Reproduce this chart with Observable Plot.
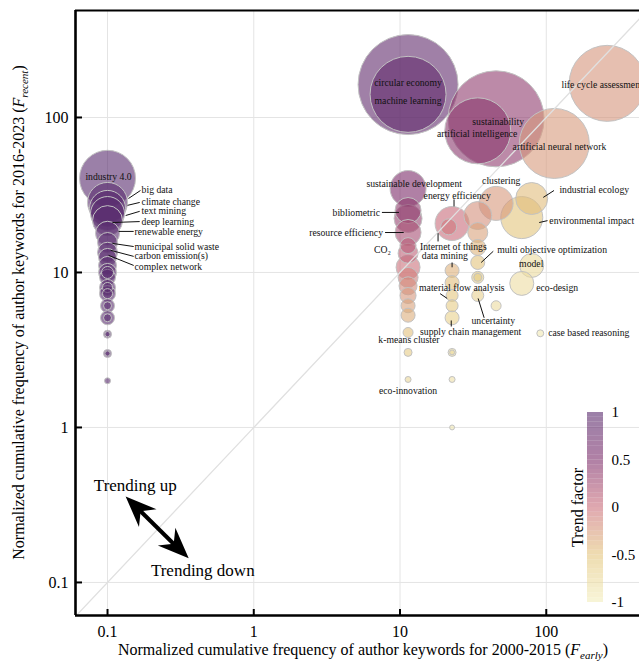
<!DOCTYPE html>
<html>
<head>
<meta charset="utf-8">
<script src="https://cdn.jsdelivr.net/npm/d3@7"></script>
<script src="https://cdn.jsdelivr.net/npm/@observablehq/plot@0.6"></script>
<style>
  html, body { margin: 0; padding: 0; overflow: hidden; background: white; }
  #wrap { position: relative; width: 639px; height: 663px; }
  #legend { position: absolute; left: 560px; top: 400px; }
</style>
</head>
<body>
<div id="wrap"><div id="chart"></div><div id="legend"></div></div>
<script>
// ---- Data ----
const keywords = [
  "industry 4.0","big data","climate change","text mining","deep learning","renewable energy",
  "municipal solid waste","carbon emission(s)","complex network","","","","","","","","","","",
  "","","","","","","",
  "circular economy","machine learning","sustainable development","bibliometric","","resource efficiency",
  "CO2","","","","","","","","k-means cluster","","eco-innovation",
  "energy efficiency","Internet of things","data mining","","material flow analysis","",
  "supply chain management","","","","",
  "artificial intelligence","","","","multi objective optimization","","","uncertainty",
  "sustainability","clustering","",
  "industrial ecology","environmental impact","model","eco-design","case based reasoning",
  "artificial neural network","life cycle assessment"
];
const fEarly = [
  0.1,0.1,0.1,0.1,0.1,0.1,0.1,0.1,0.1,0.1,0.1,0.1,0.1,0.1,0.1,0.1,0.1,0.1,0.1,
  0.1,0.1,0.1,0.1,0.1,0.1,0.1,
  11.35,11.35,11.35,11.35,11.35,11.35,11.35,11.35,11.35,11.35,11.35,11.35,11.35,11.35,11.35,11.35,11.35,
  22.7,21.5,22.7,22.7,22.7,22.7,22.7,22.7,22.7,22.7,22.7,
  34,34,34,34,34,34,34,34,
  45.4,45.4,45.4,
  79.5,68,79.5,68,91,
  113.5,261
];
const fRecent = [
  40.5,28.3,25.9,24,21.6,17.9,15.6,13.5,12.5,11.1,10,9.3,8,7.3,6.1,5.1,4,3,2,
  8,7.3,6.1,5.1,4,3,10,
  163,141,34.8,25.1,22.3,18.1,14.9,13.3,10.8,9.3,8.2,7.1,6.1,5.3,4.1,3.05,2.04,
  20.7,19.7,10.3,8.6,7.1,6.1,5.1,3.05,3.05,2.04,1,
  82,23.3,18.1,14.5,11.6,9.3,9.3,7.1,
  98,27.9,6.1,
  30,22.6,11.1,8.5,4.05,
  68,166
];
const weight = [
  784,400,324,289,225,144,100,100,81,81,81,64,64,64,49,49,16,16,9,
  25,25,16,16,7,7,36,
  2500,1444,324,169,196,169,64,100,144,100,81,64,49,49,25,16,9,
  289,64,49,49,36,36,49,16,6,9,6,
  1089,196,100,64,49,36,16,36,
  2304,289,25,
  256,441,144,144,12,
  1225,1444
];
const trend = [
  1,1,1,1,1,1,1,1,1,1,1,1,1,1,1,1,1,1,1,
  1,1,1,1,1,1,1,
  0.87,0.85,0.5,0.38,0.33,0.23,0.14,0.08,-0.02,-0.1,-0.16,-0.23,-0.3,-0.36,-0.47,-0.58,-0.7,
  0.02,-0.05,-0.38,-0.45,-0.52,-0.58,-0.63,-0.76,-0.76,-0.83,-0.92,
  0.41,-0.19,-0.3,-0.4,-0.49,-0.57,-0.57,-0.65,
  0.37,-0.24,-0.76,
  -0.45,-0.5,-0.75,-0.78,-0.92,
  -0.25,-0.22
];

const axisTicks = [0.1, 1, 10, 100];
const legendTicks = [-1, -0.5, 0, 0.5, 1];

// label anchor positions (data units)
const labelsStart = [
  {t:"big data", x:0.171, y:34.3}, {t:"climate change", x:0.171, y:28.7},
  {t:"text mining", x:0.171, y:24.8}, {t:"deep learning", x:0.171, y:21.3},
  {t:"renewable energy", x:0.153, y:18.4}, {t:"municipal solid waste", x:0.153, y:14.7},
  {t:"carbon emission(s)", x:0.153, y:12.7}, {t:"complex network", x:0.153, y:10.9},
  {t:"Internet of things", x:13.7, y:14.7}, {t:"data mining", x:14.1, y:12.7},
  {t:"multi objective optimization", x:46.2, y:13.9}, {t:"eco-design", x:85.4, y:8.0},
  {t:"material flow analysis", x:13.5, y:8.0}, {t:"supply chain management", x:13.7, y:4.16},
  {t:"case based reasoning", x:103, y:4.1}, {t:"industrial ecology", x:123, y:34.3},
  {t:"environmental impact", x:105, y:21.6}, {t:"life cycle assessment", x:127, y:163}
];
const labelsMiddle = [
  {t:"industry 4.0", x:0.1016, y:41.6}, {t:"sustainable development", x:12.5, y:37.5},
  {t:"energy efficiency", x:24.6, y:31.4}, {t:"model", x:78.9, y:11.3},
  {t:"uncertainty", x:43.4, y:4.9}, {t:"k-means cluster", x:11.5, y:3.7},
  {t:"eco-innovation", x:11.35, y:1.71}, {t:"clustering", x:49.2, y:39.2},
  {t:"circular economy", x:11.35, y:168}, {t:"machine learning", x:11.35, y:127},
  {t:"sustainability", x:46.9, y:94.2}, {t:"artificial intelligence", x:33.7, y:78.8},
  {t:"artificial neural network", x:123, y:65.0}
];
const labelsEnd = [
  {t:"bibliometric", x:7.29, y:24.4}, {t:"resource efficiency", x:7.65, y:18.1},
  {t:"CO₂", x:8.67, y:13.9}
];
const leaders = [
  [0.168,33.8,0.139,30.0],[0.166,28.3,0.137,27.1],[0.166,24.8,0.133,23.3],
  [0.166,21.3,0.108,21.0],[0.151,18.4,0.119,18.4],[0.151,14.7,0.108,15.4],
  [0.151,12.7,0.105,13.9],[0.151,11.1,0.1016,12.9],
  [23.4,29.6,23.4,26.7],[7.52,24.4,9.84,24.4],[7.9,18.1,10.6,18.1],
  [18.2,15.85,18.2,17.9],[22.7,11.6,22.7,10.8],[43.4,13.7,35.9,11.6],
  [18.8,7.3,21.0,6.8],[37.6,5.1,34.2,6.8],[22.4,4.48,22.4,4.9],
  [113,33.8,95.4,30.5],[102,21.6,89.5,21.0]
];
const trendNotes = [
  {t:"Trending up", x:0.155, y:0.42},
  {t:"Trending down", x:0.448, y:0.119}
];
// double arrow: shaft between the two notches, heads at the two tips
const trendShaft = [[0.1664, 0.2914, 0.2862, 0.1758]];
const headUp = [[0.133, 0.359]];
const headDown = [[0.359, 0.143]];
const diagonal = [[0.05,0.05],[600,600]];

// ---- Build ----
const data = keywords.map((k, i) => ({name:k, x:fEarly[i], y:fRecent[i], w:weight[i], t:trend[i]}));
const xDomain = [0.0604, 434];
const yDomain = [0.0612, 490];
const colorScale = {type:"linear", domain:[-1,-0.5,0,0.5,1],
  range:["#f3eebe","#e3c57b","#cb6e7b","#7b2b69","#582b6e"]};
const font = "Liberation Serif, Times New Roman, serif";
const W = 639, H = 663, mL = 75, mR = 0, mT = 10, mB = 48;

// barbed arrowhead symbol with its tip at the origin, pointing along angle (degrees, screen coords)
function arrowHead(angleDeg) {
  const a = angleDeg * Math.PI / 180, c = Math.cos(a), s = Math.sin(a);
  const pts = [[0,0],[-31,-12.5],[-21,0],[-31,12.5]];
  return {draw(ctx) {
    pts.forEach(([px, py], i) => {
      const X = px * c - py * s, Y = px * s + py * c;
      i ? ctx.lineTo(X, Y) : ctx.moveTo(X, Y);
    });
    ctx.closePath();
  }};
}

const chart = Plot.plot({
  width: W, height: H, marginLeft: mL, marginRight: mR, marginTop: mT, marginBottom: mB,
  x: {type:"log", domain: xDomain},
  y: {type:"log", domain: yDomain},
  r: {type:"sqrt", domain:[0,2500], range:[0,50]},
  color: colorScale,
  style: {fontFamily: font, background: "white", color: "black"},
  marks: [
    Plot.gridX(axisTicks, {stroke:"#e4e4e4", strokeOpacity:1, strokeWidth:1}),
    Plot.gridY(axisTicks, {stroke:"#e4e4e4", strokeOpacity:1, strokeWidth:1}),
    Plot.dot(data, {x:"x", y:"y", r:"w", fill:"t", fillOpacity:0.6, stroke:"#c2c2c2", strokeWidth:1}),
    Plot.line(diagonal, {stroke:"#e0e0e0", strokeWidth:1.3, clip:true}),
    Plot.link(leaders, {x1:d=>d[0], y1:d=>d[1], x2:d=>d[2], y2:d=>d[3], stroke:"#111", strokeWidth:1}),
    Plot.text(labelsStart, {x:"x", y:"y", text:"t", textAnchor:"start", fontSize:9.7, fill:"#111"}),
    Plot.text(labelsMiddle, {x:"x", y:"y", text:"t", textAnchor:"middle", fontSize:9.7, fill:"#111"}),
    Plot.text(labelsEnd, {x:"x", y:"y", text:"t", textAnchor:"end", fontSize:9.7, fill:"#111"}),
    Plot.text(trendNotes, {x:"x", y:"y", text:"t", textAnchor:"middle", fontSize:17, fill:"#000"}),
    Plot.link(trendShaft, {x1:d=>d[0], y1:d=>d[1], x2:d=>d[2], y2:d=>d[3], stroke:"#000", strokeWidth:4}),
    Plot.dot(headUp, {x:d=>d[0], y:d=>d[1], r:10, symbol: arrowHead(-135.5), fill:"#000", stroke:"none"}),
    Plot.dot(headDown, {x:d=>d[0], y:d=>d[1], r:10, symbol: arrowHead(44.5), fill:"#000", stroke:"none"}),
    Plot.tickX(axisTicks, {x:d=>d, insetTop: H-mT-mB-6, stroke:"#000", strokeWidth:2}),
    Plot.tickY(axisTicks, {y:d=>d, insetRight: W-mL-mR-7, stroke:"#000", strokeWidth:2}),
    Plot.ruleX([xDomain[0]], {stroke:"#000", strokeWidth:2.6}),
    Plot.ruleY([yDomain[0]], {stroke:"#000", strokeWidth:2.6}),
    Plot.ruleY([yDomain[1]], {stroke:"#000", strokeWidth:2.2}),
    Plot.axisX({ticks:axisTicks, tickFormat:d=>String(d), tickSize:0, tickPadding:10, fontSize:16, label:null}),
    Plot.axisY({ticks:axisTicks, tickFormat:d=>String(d), tickSize:0, tickPadding:7, fontSize:16, label:null})
  ]
});
document.getElementById("chart").appendChild(chart);

// axis titles with italic subscripts
const svg = d3.select(chart);
const xt = svg.append("text")
  .attr("x", (mL + W - mR) / 2 + 6).attr("y", H - 8)
  .attr("text-anchor", "middle").attr("font-size", 16).attr("font-family", font).attr("fill", "#000");
xt.append("tspan").text("Normalized cumulative frequency of author keywords for 2000-2015 (");
xt.append("tspan").attr("font-style", "italic").text("F");
xt.append("tspan").attr("font-style", "italic").attr("font-size", 11).attr("dy", 4).text("early");
xt.append("tspan").attr("dy", -4).text(")");

const yt = svg.append("text")
  .attr("transform", `translate(24,${(mT + H - mB) / 2}) rotate(-90)`)
  .attr("text-anchor", "middle").attr("font-size", 16).attr("font-family", font).attr("fill", "#000");
yt.append("tspan").text("Normalized cumulative frequency of author keywords for 2016-2023 (");
yt.append("tspan").attr("font-style", "italic").text("F");
yt.append("tspan").attr("font-style", "italic").attr("font-size", 11).attr("dy", 4).text("recent");
yt.append("tspan").attr("dy", -4).text(")");

// colour legend
const steps = d3.range(-1, 1, 0.05);
const legend = Plot.plot({
  width: 79, height: 212, marginLeft: 27, marginRight: 36, marginTop: 12, marginBottom: 10,
  x: {domain:[0,1], axis:null},
  y: {domain:[-1,1]},
  color: colorScale,
  style: {fontFamily: font, background: "transparent", color: "black"},
  marks: [
    Plot.rect(steps, {x1:()=>0, x2:()=>1, y1:d=>d, y2:d=>d+0.05, fill:d=>d+0.025, fillOpacity:0.6}),
    Plot.axisY({anchor:"right", ticks:legendTicks, tickFormat:d=>String(d), tickSize:0, tickPadding:8, fontSize:15, label:null}),
    Plot.text(["Trend factor"], {x:()=>0, y:()=>0, text:d=>d, rotate:-90, dx:-10, fontSize:16, fill:"#000"})
  ]
});
document.getElementById("legend").appendChild(legend);
</script>
</body>
</html>
